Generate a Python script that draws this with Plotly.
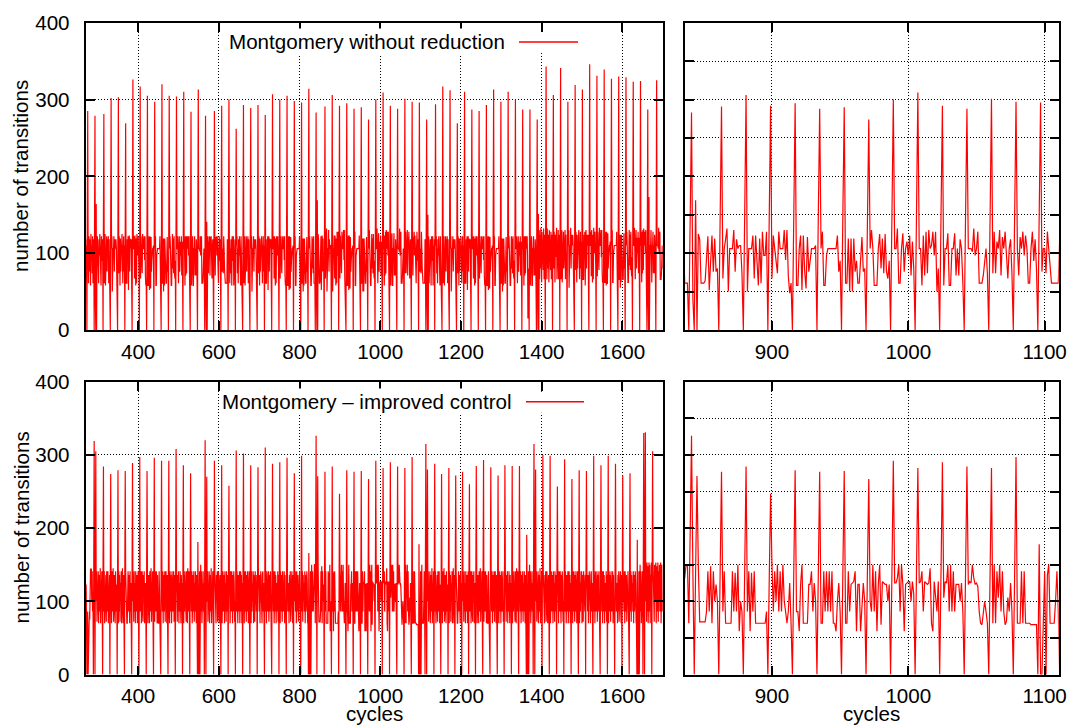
import plotly.graph_objects as go

FONT = "Liberation Sans, Arial, Helvetica, sans-serif"
first_cycle = 270
left_range = [270, 1700]
right_range = [836, 1110.3]
y_range = [0, 400]

legend_top = "Montgomery without reduction"
legend_bottom = "Montgomery \u2013 improved control"
y_title = "number of transitions"
x_title = "cycles"

# ---- series 1 : Montgomery without reduction (one row per spike period) ----
top_rows = [
    [118, 62, 110],
    [0, 150, 285, 106, 61, 122, 76, 118, 106, 58, 125, 90, 110, 74, 122, 61, 106, 118],
    [0, 150, 279, 40, 0, 164, 0, 110, 122, 74, 106, 61, 118, 97, 125, 76, 106, 58, 122, 90, 110, 118],
    [0, 150, 281, 61, 106, 125, 58, 106, 106, 122, 76, 118, 106, 122, 61, 118, 74, 97],
    [0, 150, 302, 106, 122, 50, 106, 106, 106, 122, 76, 118, 106, 110, 118, 106, 61, 74],
    [0, 150, 303, 74, 122, 106, 58, 119, 76, 106, 106, 125, 61, 61, 97, 122, 76, 110],
    [0, 150, 269, 61, 61, 61, 118, 90, 122, 52, 106, 123, 76, 119, 106, 106, 118, 74],
    [0, 150, 326, 106, 106, 122, 67, 123, 80, 58, 119, 61, 125, 97, 97, 122, 106, 80],
    [0, 150, 317, 67, 122, 106, 90, 74, 125, 106, 106, 106, 122, 91, 122, 70, 58, 61],
    [0, 150, 305, 58, 58, 106, 122, 52, 122, 76, 54, 121, 76, 90, 106, 106, 106, 110],
    [0, 150, 297, 106, 122, 58, 58, 97, 106, 106, 106, 106, 106, 106, 106, 122, 76, 90],
    [0, 150, 320, 61, 61, 119, 50, 119, 58, 119, 76, 90, 61, 61, 97, 121, 76, 80],
    [0, 150, 305, 106, 122, 106, 58, 58, 58, 106, 125, 80, 119, 74, 122, 76, 67, 90],
    [0, 150, 304, 106, 106, 122, 61, 61, 106, 122, 76, 106, 115, 97, 122, 71, 115, 80],
    [0, 150, 310, 106, 106, 58, 122, 71, 122, 74, 122, 106, 110, 122, 97, 122, 58, 80],
    [0, 150, 284, 58, 106, 106, 122, 58, 58, 106, 106, 122, 71, 106, 71, 118, 106, 61],
    [0, 150, 313, 106, 106, 106, 102, 122, 97, 106, 122, 61, 61, 61, 71, 90, 106, 74],
    [0, 150, 279, 40, 0, 141, 0, 74, 122, 74, 115, 106, 122, 71, 121, 106, 122, 97, 67, 106, 118, 74],
    [0, 150, 285, 106, 71, 121, 106, 122, 97, 122, 106, 61, 61, 106, 122, 90, 118, 80],
    [0, 150, 292, 76, 106, 106, 74, 122, 106, 80, 61, 61, 61, 61, 61, 61, 118, 90],
    [0, 150, 300, 122, 61, 106, 74, 118, 106, 58, 122, 90, 106, 122, 58, 110, 76, 118],
    [0, 150, 262, 110, 122, 74, 106, 61, 118, 97, 122, 76, 106, 58, 122, 90, 110, 74],
    [0, 150, 293, 61, 106, 122, 58, 106, 106, 122, 76, 118, 106, 122, 61, 118, 74, 97],
    [0, 150, 289, 106, 122, 50, 106, 106, 106, 122, 76, 118, 106, 110, 118, 106, 61, 74],
    [0, 150, 293, 74, 122, 106, 58, 119, 76, 106, 106, 122, 61, 61, 97, 122, 76, 110],
    [0, 150, 280, 61, 61, 61, 118, 90, 122, 52, 106, 122, 76, 119, 106, 106, 118, 74],
    [0, 150, 307, 106, 106, 122, 67, 122, 80, 58, 119, 61, 122, 97, 97, 122, 106, 80],
    [0, 150, 300, 67, 122, 106, 90, 74, 122, 106, 106, 106, 122, 91, 122, 70, 58, 61],
    [0, 150, 305, 58, 58, 106, 122, 52, 122, 76, 54, 121, 76, 90, 106, 106, 106, 110],
    [0, 150, 298, 106, 122, 58, 58, 97, 106, 106, 106, 106, 106, 106, 106, 122, 76, 90],
    [0, 150, 296, 61, 61, 119, 50, 119, 58, 119, 76, 90, 61, 61, 97, 121, 76, 80],
    [0, 150, 314, 106, 122, 106, 58, 58, 58, 106, 122, 80, 119, 74, 122, 61, 61, 61],
    [0, 150, 283, 40, 0, 169, 0, 125, 118, 61, 61, 61, 64, 97, 122, 52, 90, 123, 76, 119, 76, 80],
    [0, 150, 291, 67, 106, 118, 132, 50, 106, 106, 106, 130, 76, 118, 106, 110, 110, 74],
    [0, 150, 306, 50, 106, 106, 106, 123, 67, 123, 80, 58, 119, 61, 128, 97, 97, 128],
    [0, 150, 292, 67, 123, 106, 90, 74, 128, 106, 106, 106, 130, 91, 130, 70, 48, 61],
    [0, 150, 295, 58, 58, 106, 123, 52, 123, 76, 54, 121, 76, 90, 106, 106, 106, 110],
    [0, 150, 288, 106, 128, 58, 58, 97, 106, 106, 106, 106, 106, 106, 106, 123, 76, 90],
    [0, 150, 290, 61, 61, 119, 50, 119, 50, 119, 76, 90, 61, 61, 97, 121, 76, 80],
    [0, 150, 274, 106, 130, 106, 58, 58, 58, 106, 125, 80, 119, 74, 125, 76, 67, 90],
    [0, 150, 300, 106, 106, 132, 61, 61, 106, 126, 76, 106, 115, 97, 123, 71, 115, 80],
    [0, 150, 309, 106, 106, 58, 123, 71, 128, 74, 130, 106, 110, 128, 97, 128, 50, 80],
    [0, 150, 292, 58, 106, 106, 126, 58, 58, 106, 106, 126, 71, 106, 71, 118, 106, 61],
    [0, 150, 288, 106, 106, 106, 102, 132, 97, 106, 128, 61, 61, 61, 71, 90, 106, 74],
    [0, 150, 301, 74, 128, 74, 115, 106, 130, 71, 121, 106, 128, 97, 67, 106, 118, 74],
    [0, 150, 297, 106, 71, 121, 106, 128, 97, 123, 106, 61, 61, 106, 128, 90, 118, 80],
    [0, 150, 296, 76, 106, 106, 74, 128, 106, 80, 61, 61, 61, 61, 61, 61, 118, 90],
    [0, 150, 274, 40, 0, 150, 0, 122, 61, 106, 74, 118, 106, 58, 122, 90, 106, 122, 58, 110, 76, 118],
    [0, 150, 294, 110, 122, 74, 106, 61, 118, 97, 122, 76, 106, 58, 122, 90, 110, 74],
    [0, 150, 317, 61, 106, 122, 58, 106, 106, 122, 76, 118, 106, 122, 61, 118, 74, 97],
    [0, 150, 312, 106, 122, 50, 106, 106, 106, 122, 76, 118, 106, 110, 118, 106, 61, 74],
    [0, 150, 269, 74, 122, 106, 58, 119, 76, 106, 106, 122, 61, 61, 97, 122, 76, 110],
    [0, 150, 310, 61, 61, 61, 118, 90, 122, 52, 106, 122, 76, 119, 106, 106, 118, 74],
    [0, 150, 287, 106, 106, 122, 67, 122, 80, 58, 119, 61, 122, 97, 97, 122, 106, 80],
    [0, 150, 285, 67, 122, 106, 90, 74, 122, 106, 106, 106, 122, 91, 122, 70, 58, 61],
    [0, 150, 293, 58, 58, 106, 122, 52, 122, 76, 54, 121, 76, 90, 106, 106, 106, 110],
    [0, 150, 313, 106, 122, 58, 58, 97, 106, 106, 106, 106, 106, 106, 106, 122, 76, 90],
    [0, 150, 297, 61, 61, 119, 50, 119, 58, 119, 76, 90, 61, 61, 97, 121, 76, 80],
    [0, 150, 310, 106, 122, 106, 58, 58, 58, 106, 122, 80, 119, 74, 122, 76, 67, 90],
    [0, 150, 300, 106, 106, 122, 61, 61, 106, 122, 76, 106, 115, 97, 122, 71, 115, 80],
    [0, 150, 287, 106, 106, 58, 122, 71, 122, 74, 122, 106, 110, 122, 97, 15, 58, 80],
    [0, 150, 287, 58, 106, 106, 122, 58, 58, 106, 106, 122, 71, 106, 71, 118, 106, 61],
    [0, 150, 274, 40, 0, 151, 0, 130, 66, 124, 80, 133, 110, 62, 128, 95, 115, 78, 132, 66, 110, 124],
    [0, 150, 343, 115, 66, 132, 80, 124, 110, 62, 130, 95, 115, 78, 128, 66, 110, 124],
    [0, 150, 306, 80, 128, 110, 62, 124, 95, 115, 133, 66, 110, 78, 130, 66, 115, 124],
    [0, 150, 341, 66, 110, 130, 62, 110, 110, 128, 80, 124, 110, 130, 66, 124, 78, 100],
    [0, 150, 297, 110, 130, 55, 110, 110, 110, 133, 80, 124, 110, 115, 124, 110, 66, 78],
    [0, 150, 319, 78, 128, 110, 62, 124, 80, 110, 110, 130, 66, 66, 100, 128, 80, 115],
    [0, 150, 313, 66, 66, 66, 124, 95, 128, 58, 110, 130, 80, 124, 110, 110, 124, 78],
    [0, 150, 346, 110, 110, 128, 70, 130, 84, 62, 124, 66, 133, 100, 100, 128, 110, 84],
    [0, 150, 331, 70, 128, 110, 95, 78, 133, 110, 110, 110, 130, 95, 130, 74, 62, 66],
    [0, 150, 339, 62, 62, 110, 128, 58, 128, 80, 60, 126, 80, 95, 110, 110, 110, 115],
    [0, 150, 327, 110, 130, 62, 62, 100, 110, 110, 110, 110, 110, 110, 110, 128, 80, 95],
    [0, 150, 330, 66, 66, 124, 55, 124, 62, 124, 80, 95, 66, 66, 100, 126, 80, 84],
    [0, 150, 329, 110, 128, 110, 62, 62, 62, 110, 130, 84, 124, 78, 128, 80, 70, 95],
    [0, 150, 323, 110, 110, 133, 66, 66, 110, 130, 80, 110, 120, 100, 128, 74, 120, 84],
    [0, 150, 324, 110, 110, 62, 128, 74, 130, 78, 132, 110, 115, 128, 100, 130, 62, 84],
    [0, 150, 287, 40, 0, 173, 0, 62, 110, 110, 130, 62, 62, 110, 110, 128, 74, 110, 74, 124, 110, 66],
    [0, 150, 325, 110, 110, 110, 106, 133, 100, 110, 128, 66, 66, 66, 74, 95, 110, 80],
]

# ---- series 2 : Montgomery - improved control ----
bottom_rows = [
    [70, 123, 72, 0, 86, 70, 0, 72, 70, 86, 75, 144, 144, 144, 144, 100, 141, 86, 112],
    [0, 160, 319, 140, 0, 150, 305, 100, 141, 72, 125, 86, 141, 70, 112, 136, 86, 145, 70, 125, 100, 141, 86],
    [0, 150, 284, 86, 141, 70, 125, 100, 136, 72, 141, 86, 112, 141, 70, 123, 86, 136],
    [0, 150, 274, 125, 70, 141, 86, 100, 145, 72, 86, 136, 125, 70, 141, 100, 86, 123],
    [0, 150, 279, 70, 141, 86, 136, 72, 125, 100, 141, 70, 86, 145, 112, 70, 136, 86],
    [0, 150, 278, 141, 86, 70, 70, 70, 125, 141, 86, 136, 100, 70, 141, 86, 125, 72],
    [0, 150, 289, 100, 136, 72, 141, 86, 125, 70, 141, 100, 86, 136, 70, 125, 141, 86],
    [0, 150, 297, 86, 125, 141, 70, 100, 141, 86, 72, 136, 112, 141, 70, 86, 125, 100],
    [0, 150, 278, 141, 70, 86, 136, 125, 70, 141, 100, 86, 145, 72, 123, 86, 141, 70],
    [0, 150, 296, 72, 141, 100, 86, 141, 125, 70, 136, 86, 70, 70, 141, 100, 125, 86],
    [0, 150, 292, 125, 86, 141, 70, 136, 100, 86, 141, 72, 125, 141, 86, 70, 136, 100],
    [0, 150, 292, 86, 70, 141, 125, 86, 136, 70, 141, 100, 86, 125, 141, 72, 100, 136],
    [0, 150, 308, 141, 100, 72, 136, 86, 141, 70, 125, 86, 141, 100, 70, 136, 86, 125],
    [0, 150, 286, 70, 136, 86, 141, 100, 125, 72, 141, 86, 70, 145, 100, 86, 141, 70],
    [0, 150, 275, 125, 86, 141, 70, 100, 136, 86, 141, 72, 125, 86, 141, 100, 70, 136],
    [68, 0, 181, 0, 0, 70, 141, 0, 136, 150, 86, 141, 70, 125, 100, 141, 86, 125],
    [0, 160, 320, 140, 0, 150, 270, 100, 141, 72, 125, 86, 141, 70, 112, 136, 86, 145, 70, 125, 100, 141, 86],
    [0, 150, 292, 141, 86, 125, 70, 136, 100, 141, 72, 86, 141, 125, 70, 100, 136, 86],
    [0, 150, 286, 70, 125, 141, 86, 100, 136, 70, 141, 86, 125, 72, 141, 100, 86, 136],
    [0, 150, 258, 136, 86, 70, 141, 125, 86, 141, 100, 70, 136, 86, 141, 125, 72, 100],
    [0, 150, 306, 86, 141, 100, 70, 136, 125, 86, 141, 70, 100, 141, 86, 136, 70, 125],
    [0, 150, 302, 125, 70, 141, 86, 141, 100, 72, 136, 86, 141, 125, 70, 86, 141, 100],
    [0, 150, 286, 70, 141, 86, 125, 100, 141, 70, 136, 86, 72, 141, 125, 100, 86, 136],
    [0, 150, 283, 141, 100, 86, 136, 70, 125, 141, 86, 100, 70, 136, 141, 86, 125, 72],
    [0, 150, 310, 86, 136, 70, 141, 125, 86, 100, 141, 72, 136, 86, 125, 141, 70, 100],
    [0, 150, 288, 125, 86, 141, 70, 100, 141, 86, 136, 70, 125, 100, 86, 141, 72, 136],
    [0, 150, 290, 70, 141, 125, 86, 136, 72, 141, 100, 86, 125, 141, 70, 136, 86, 100],
    [0, 150, 296, 141, 86, 100, 125, 70, 136, 86, 141, 72, 100, 125, 141, 86, 70, 136],
    [0, 150, 275, 100, 125, 86, 141, 70, 141, 100, 86, 136, 72, 125, 86, 141, 100, 70],
    [0, 150, 299, 86, 141, 72, 136, 100, 125, 86, 141, 70, 136, 86, 100, 141, 125, 72],
    [68, 0, 166, 0, 0, 70, 141, 0, 136, 150, 86, 141, 100, 86, 125, 132, 150, 150],
    [70, 190, 326, 140, 0, 140, 271, 150, 72, 72, 72, 72, 72, 86, 141, 86, 148, 70, 141, 100, 123, 100],
    [0, 140, 277, 86, 141, 70, 70, 70, 70, 70, 141, 86, 139, 86, 150, 59, 100, 86],
    [0, 140, 284, 86, 141, 59, 139, 86, 141, 70, 70, 70, 70, 70, 70, 70, 70, 86],
    [0, 130, 247, 150, 86, 141, 100, 150, 86, 141, 86, 150, 100, 86, 70, 86, 125, 70],
    [0, 140, 279, 86, 86, 59, 123, 150, 70, 70, 70, 70, 123, 123, 141, 86, 125, 100],
    [0, 140, 277, 70, 70, 141, 86, 141, 86, 141, 86, 141, 70, 70, 59, 100, 125, 86],
    [0, 140, 278, 70, 70, 141, 86, 123, 125, 127, 141, 59, 123, 123, 59, 100, 125, 100],
    [0, 140, 267, 100, 86, 150, 86, 141, 59, 123, 150, 68, 127, 125, 123, 123, 100, 123],
    [0, 140, 292, 125, 125, 132, 150, 86, 150, 123, 59, 123, 125, 127, 127, 100, 127, 110],
    [0, 140, 282, 125, 127, 141, 86, 127, 125, 123, 125, 145, 70, 59, 127, 100, 86, 127],
    [0, 140, 290, 105, 127, 125, 150, 86, 150, 86, 141, 86, 123, 123, 123, 100, 125, 86],
    [0, 140, 284, 123, 127, 125, 150, 132, 123, 125, 120, 86, 70, 68, 86, 100, 86, 70],
    [0, 140, 282, 70, 150, 70, 141, 105, 150, 86, 141, 86, 68, 73, 105, 86, 125, 86],
    [0, 140, 297, 70, 70, 70, 141, 70, 141, 70, 70, 70, 70, 68, 68, 68, 68],
    [68, 0, 178, 0, 0, 70, 141, 0, 136, 150, 70, 70, 70, 70, 100, 141, 86],
    [0, 160, 315, 140, 0, 150, 280, 100, 141, 72, 125, 86, 141, 70, 112, 136, 86, 145, 70, 125, 100, 141],
    [0, 150, 288, 86, 141, 70, 125, 100, 136, 72, 141, 86, 112, 141, 70, 123, 86],
    [0, 150, 274, 125, 70, 141, 86, 100, 145, 72, 86, 136, 125, 70, 141, 100, 86, 123],
    [0, 150, 282, 70, 141, 86, 136, 72, 125, 100, 141, 70, 86, 145, 112, 70, 136],
    [0, 150, 272, 141, 86, 70, 70, 70, 125, 141, 86, 136, 100, 70, 141, 86, 125],
    [0, 150, 277, 100, 136, 72, 141, 86, 125, 70, 141, 100, 86, 136, 70, 125, 141],
    [0, 150, 260, 86, 125, 141, 70, 100, 141, 86, 72, 136, 112, 141, 70, 86, 125],
    [0, 150, 285, 141, 70, 86, 136, 125, 70, 141, 100, 86, 145, 72, 123, 86, 141, 70],
    [0, 150, 293, 72, 141, 100, 86, 141, 125, 70, 136, 86, 70, 70, 141, 100, 125, 86],
    [0, 150, 283, 125, 86, 141, 70, 136, 100, 86, 141, 72, 125, 141, 86, 70, 136, 100],
    [0, 150, 272, 86, 70, 141, 125, 86, 136, 70, 141, 100, 86, 125, 141, 72, 100],
    [0, 150, 286, 141, 100, 72, 136, 86, 141, 70, 125, 86, 141, 100, 70, 136, 86, 125],
    [0, 150, 285, 70, 136, 86, 141, 100, 125, 72, 141, 86, 70, 145, 100, 86, 141, 70],
    [0, 150, 285, 125, 86, 141, 70, 100, 136, 86, 141, 72, 125, 86, 141, 100, 70, 136],
    [68, 0, 191, 0, 0, 70, 141, 0, 136, 150, 86, 141, 70, 125, 100, 141, 86, 125],
    [0, 160, 315, 140, 0, 150, 280, 100, 141, 72, 125, 86, 141, 70, 112, 136, 86, 145, 70, 125, 100, 141],
    [0, 150, 300, 141, 86, 125, 70, 136, 100, 141, 72, 86, 141, 125, 70, 100, 136, 86],
    [0, 150, 299, 70, 125, 141, 86, 100, 136, 70, 141, 86, 125, 72, 141, 100, 86, 136],
    [0, 150, 257, 136, 86, 70, 141, 125, 86, 141, 100, 70, 136, 86, 141, 125, 72, 100],
    [0, 150, 294, 86, 141, 100, 70, 136, 125, 86, 141, 70, 100, 141, 86, 136, 70, 125],
    [0, 150, 267, 125, 70, 141, 86, 141, 100, 72, 136, 86, 141, 125, 70, 86, 141, 100],
    [0, 150, 279, 70, 141, 86, 125, 100, 141, 70, 136, 86, 72, 141, 125, 100, 86, 136],
    [0, 150, 278, 141, 100, 86, 136, 70, 125, 141, 86, 100, 70, 136, 141, 86, 125, 72],
    [0, 150, 299, 86, 136, 70, 141, 125, 86, 100, 141, 72, 136, 86, 125, 141, 70, 100],
    [0, 150, 286, 125, 86, 141, 70, 100, 141, 86, 136, 70, 125, 100, 86, 141, 72, 136],
    [0, 150, 299, 70, 141, 125, 86, 136, 72, 141, 100, 86, 125, 141, 70, 136, 86, 100],
    [0, 150, 288, 141, 86, 100, 125, 70, 136, 86, 141, 72, 100, 125, 141, 86, 70, 136],
    [0, 150, 272, 100, 125, 86, 141, 70, 141, 100, 86, 136, 72, 125, 86, 141, 100, 70],
    [0, 150, 275, 86, 141, 72, 136, 100, 125, 86, 141, 70, 136, 86, 100, 141, 125, 72],
    [68, 0, 184, 0, 0, 70, 141, 0, 136, 150, 86, 141, 70, 125, 100, 141],
    [0, 160, 330, 140, 0, 150, 331, 100, 150, 72, 153, 86, 148, 70, 112, 153, 86, 150, 70, 136, 100, 153],
    [0, 150, 305, 153, 86, 141, 72, 150, 100, 136, 153, 70, 125, 148, 86, 153, 72, 141, 100, 150, 86, 136, 153, 70, 125, 150, 86, 100],
]

top_values = [v for row in top_rows for v in row]
bottom_values = [v for row in bottom_rows for v in row]
top_cycles = list(range(first_cycle, first_cycle + len(top_values)))
bottom_cycles = list(range(first_cycle, first_cycle + len(bottom_values)))

W, H = 1072, 727
def px_x(p):
    return p / W
def px_y(p):
    return 1 - p / H

dom_x_left = [px_x(85.7), px_x(662.7)]
dom_x_right = [px_x(684.7), px_x(1058.7)]
dom_y_top = [px_y(330.0), px_y(22.7)]
dom_y_bot = [px_y(674.5), px_y(381.7)]

fig = go.Figure()
line_style = dict(color="#ff0000", width=1.2)
for xa, ya, xs, ys in [("x", "y", top_cycles, top_values),
                       ("x2", "y2", top_cycles, top_values),
                       ("x3", "y3", bottom_cycles, bottom_values),
                       ("x4", "y4", bottom_cycles, bottom_values)]:
    fig.add_trace(go.Scatter(x=xs, y=ys, mode="lines", line=line_style,
                             xaxis=xa, yaxis=ya, showlegend=False, hoverinfo="skip"))

FS = 20.6
tickfont = dict(family=FONT, size=FS, color="black")
common = dict(showline=True, linecolor="black", linewidth=2, mirror="ticks",
              ticks="inside", ticklen=9, tickwidth=2, tickcolor="black",
              showgrid=True, gridcolor="black", gridwidth=1, griddash="1px,2px",
              zeroline=False, tickfont=tickfont, fixedrange=True, automargin=False)

fig.update_layout(
    width=W, height=H, margin=dict(l=0, r=0, t=0, b=0, autoexpand=False),
    paper_bgcolor="white", plot_bgcolor="white", showlegend=False,
    xaxis=dict(domain=dom_x_left, anchor="y", range=left_range, tick0=0, dtick=200,
               ticklabelstandoff=2, **common),
    yaxis=dict(domain=dom_y_top, anchor="x", range=y_range, tick0=0, dtick=100,
               ticklabelstandoff=10, **common),
    xaxis2=dict(domain=dom_x_right, anchor="y2", range=right_range, tick0=0, dtick=100,
                ticklabelstandoff=2, **common),
    yaxis2=dict(domain=dom_y_top, anchor="x2", range=y_range, tick0=0, dtick=50,
                showticklabels=False, **common),
    xaxis3=dict(domain=dom_x_left, anchor="y3", range=left_range, tick0=0, dtick=200,
                ticklabelstandoff=2, **common),
    yaxis3=dict(domain=dom_y_bot, anchor="x3", range=y_range, tick0=0, dtick=100,
                ticklabelstandoff=10, **common),
    xaxis4=dict(domain=dom_x_right, anchor="y4", range=right_range, tick0=0, dtick=100,
                ticklabelstandoff=2, **common),
    yaxis4=dict(domain=dom_y_bot, anchor="x4", range=y_range, tick0=0, dtick=50,
                showticklabels=False, **common),
)

ann_font = dict(family=FONT, size=FS, color="black")
annotations = [
    dict(text=y_title, x=px_x(20.5), y=px_y(176.5), textangle=-90),
    dict(text=y_title, x=px_x(20.5), y=px_y(528), textangle=-90),
    dict(text=x_title, x=(dom_x_left[0] + dom_x_left[1]) / 2, y=px_y(713.5)),
    dict(text=x_title, x=(dom_x_right[0] + dom_x_right[1]) / 2, y=px_y(713.5)),
]
for a in annotations:
    a.update(xref="paper", yref="paper", showarrow=False, font=ann_font,
             xanchor="center", yanchor="middle")
# key texts on an opaque box (the key hides the grid behind it)
annotations.append(dict(text=legend_top, x=px_x(507), y=px_y(42), xref="paper", yref="paper",
                        showarrow=False, font=ann_font, xanchor="right", yanchor="middle",
                        bgcolor="white", borderpad=1))
annotations.append(dict(text=legend_bottom, x=px_x(514), y=px_y(401.7), xref="paper", yref="paper",
                        showarrow=False, font=ann_font, xanchor="right", yanchor="middle",
                        bgcolor="white", borderpad=1))
fig.update_layout(annotations=annotations)

# key sample areas and sample lines
for xa, xb, yc in [(507, 590, 42), (514, 596, 401.7)]:
    fig.add_shape(type="rect", xref="paper", yref="paper", x0=px_x(xa), x1=px_x(xb),
                  y0=px_y(yc + 11), y1=px_y(yc - 10), fillcolor="white",
                  line=dict(width=0), layer="above")
fig.add_shape(type="line", xref="paper", yref="paper", x0=px_x(519), x1=px_x(578),
              y0=px_y(42), y1=px_y(42), line=dict(color="#ff0000", width=1.5))
fig.add_shape(type="line", xref="paper", yref="paper", x0=px_x(526), x1=px_x(584),
              y0=px_y(401.7), y1=px_y(401.7), line=dict(color="#ff0000", width=1.5))

fig.write_html("out.html", config={"displayModeBar": False},
               post_script="document.body.style.margin='0px';document.body.style.padding='0px';")
